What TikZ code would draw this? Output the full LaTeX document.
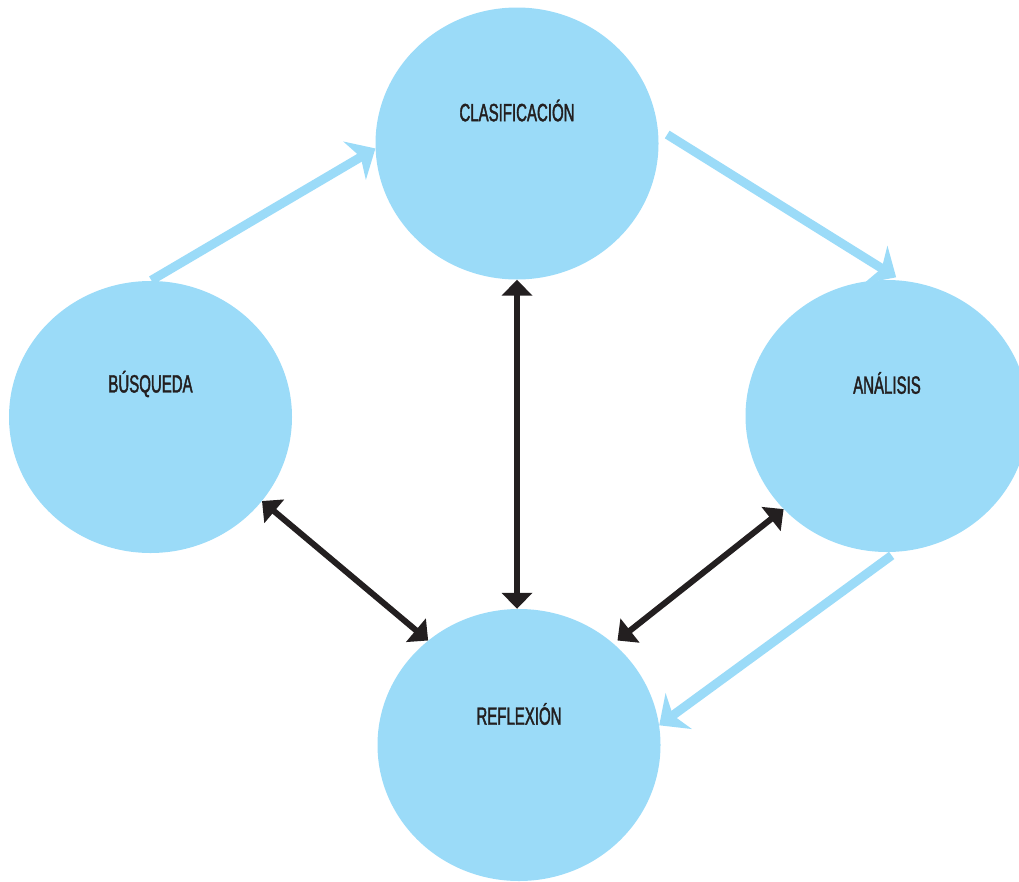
\documentclass[tikz,border=0pt]{standalone}
\usepackage{fontspec}
\setmainfont[FakeStretch=0.6,FakeBold=1.6]{Liberation Sans}
\usepackage{tikz}
\usetikzlibrary{arrows.meta,calc,positioning,shapes.geometric}
\definecolor{sky}{RGB}{155,219,248}
\definecolor{ink}{RGB}{35,31,32}

\begin{document}
\begin{tikzpicture}[x=1pt,y=-1pt,
  blob/.style={ellipse,fill=sky,draw=none,minimum width=283pt,minimum height=272pt,inner sep=0pt},
  tag/.style={font=\fontsize{25}{28}\selectfont,text=ink,inner sep=0pt},
  flow/.style={line width=9pt,draw=sky,-{Stealth[length=24pt,width=44pt,inset=7pt,fill=sky]}},
  link/.style={line width=6pt,draw=ink,{Triangle[length=16pt,width=30pt,fill=ink]}-{Triangle[length=16pt,width=30pt,fill=ink]}}]
  \useasboundingbox (0,0) rectangle (1019,881);
  \clip (0,0) rectangle (1019,881);
  % the four stages
  \node[blob] (clas) at (517,143.5) {};
  \node[blob] (busq) at (150.5,417) {};
  \node[blob] (anal) at (887,416) {};
  \node[blob] (refl) at (519,745) {};
  \node[tag] (clasT) at ([yshift=33pt]clas.center) {CLASIFICACIÓN};
  \node[tag] (busqT) at ([yshift=33pt]busq.center) {BÚSQUEDA};
  \node[tag] (analT) at ([yshift=33pt]anal.center) {ANÁLISIS};
  \node[tag] (reflT) at ([yshift=31pt]refl.center) {REFLEXIÓN};
  % cycle
  \draw[flow,shorten <=1pt] (busq.north) -- (clas.182);
  \draw[flow,shorten <=11pt,shorten >=6pt] (clas.6) -- (anal.84);
  \draw[flow,shorten <=6pt] (anal.274) -- (refl.8);
  % reflexion links
  \draw[link] (busq.-37) -- (refl.131);
  \draw[link] (clas.south) -- (clas.south |- refl.north);
  \draw[link,shorten >=5pt] (anal.222) -- (refl.47);
\end{tikzpicture}
\end{document}
